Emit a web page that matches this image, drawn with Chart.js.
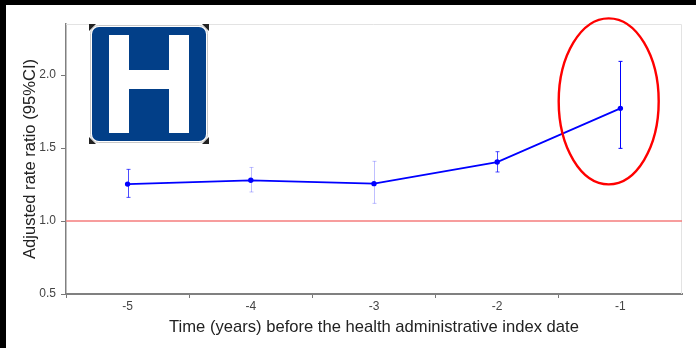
<!DOCTYPE html>
<html>
<head>
<meta charset="utf-8">
<title>Adjusted rate ratio</title>
<script src="https://cdn.jsdelivr.net/npm/chart.js@4"></script>
<style>
html, body { margin: 0; padding: 0; background: #000; overflow: hidden; }
#wrap { position: absolute; left: 6px; top: 5px; width: 690px; height: 343px; background: #fff; }
</style>
</head>
<body>
<div id="wrap"><canvas id="rateChart" width="690" height="343"></canvas></div>
<script>
var years = ["-5", "-4", "-3", "-2", "-1"];
var rateRatio = [1.253, 1.279, 1.256, 1.404, 1.772];
var ciUpper = [1.354, 1.367, 1.409, 1.475, 2.094];
var ciLower = [1.162, 1.199, 1.121, 1.336, 1.498];
var yTicks = [0.5, 1.0, 1.5, 2.0];
var referenceRatio = 1.0;

var fontName = "'Liberation Sans', Arial, sans-serif";
var ciAlpha = [0.7, 0.25, 0.25, 0.7, 1];

// red line at 1.0, plot frame, CI whiskers
var overlays = {
    id: "overlays",
    beforeDatasetsDraw: function (chart) {
        var c = chart.ctx, a = chart.chartArea, y = chart.scales.y;
        c.save();
        c.strokeStyle = "#e3e3e3";
        c.lineWidth = 1;
        c.beginPath();
        c.moveTo(a.left, a.top + 0.5);
        c.lineTo(a.right - 0.5, a.top + 0.5);
        c.lineTo(a.right - 0.5, a.bottom);
        c.stroke();
        c.strokeStyle = "#f47c7c";
        c.lineWidth = 1.5;
        c.beginPath();
        c.moveTo(a.left, y.getPixelForValue(referenceRatio));
        c.lineTo(a.right, y.getPixelForValue(referenceRatio));
        c.stroke();
        c.restore();
    },
    afterDatasetsDraw: function (chart) {
        var c = chart.ctx, x = chart.scales.x, y = chart.scales.y;
        c.save();
        c.lineWidth = 1;
        years.forEach(function (year, i) {
            var px = Math.round(x.getPixelForValue(i)) + 0.5;
            var top = y.getPixelForValue(ciUpper[i]);
            var bottom = y.getPixelForValue(ciLower[i]);
            c.strokeStyle = "rgba(0,0,255," + ciAlpha[i] + ")";
            c.beginPath();
            c.moveTo(px, top);
            c.lineTo(px, bottom);
            c.moveTo(px - 2, top);
            c.lineTo(px + 2, top);
            c.moveTo(px - 2, bottom);
            c.lineTo(px + 2, bottom);
            c.stroke();
        });
        c.restore();
    },
    afterDraw: function (chart) {
        var c = chart.ctx, a = chart.chartArea, x = chart.scales.x, y = chart.scales.y;
        c.save();

        // hospital sign
        var sx = a.left + 23, sy = a.top;
        c.fillStyle = "#fff";
        c.fillRect(sx, sy, 120, 120);
        c.fillStyle = "#222";
        [[0, 0, 1, 1], [120, 0, -1, 1], [0, 120, 1, -1], [120, 120, -1, -1]].forEach(function (p) {
            c.beginPath();
            c.moveTo(sx + p[0], sy + p[1]);
            c.lineTo(sx + p[0] + 7 * p[2], sy + p[1]);
            c.lineTo(sx + p[0], sy + p[1] + 7 * p[3]);
            c.fill();
        });
        c.strokeStyle = "#c8c8c8";
        c.lineWidth = 1;
        c.beginPath();
        c.roundRect(sx + 1.5, sy + 1.5, 117, 117, 8);
        c.stroke();
        c.fillStyle = "#023f88";
        c.beginPath();
        c.roundRect(sx + 3, sy + 3, 114, 114, 7);
        c.fill();
        c.fillStyle = "#fff";
        c.fillRect(sx + 20, sy + 11, 20, 98);
        c.fillRect(sx + 80, sy + 11, 20, 98);
        c.fillRect(sx + 40, sy + 46, 40, 19);

        // red ring around the last year
        var cx = x.getPixelForValue(3.905), cy = y.getPixelForValue(1.82);
        c.strokeStyle = "#ff0000";
        c.lineWidth = 2.4;
        c.beginPath();
        c.ellipse(cx, cy, 50, 83, 0, 0, Math.PI * 2);
        c.stroke();
        c.restore();
    }
};

var ctx = document.getElementById("rateChart").getContext("2d");
new Chart(ctx, {
    type: "line",
    data: {
        labels: years,
        datasets: [{
            data: rateRatio,
            borderColor: "#0000ff",
            backgroundColor: "#0000ff",
            borderWidth: 1.8,
            pointRadius: 1.8,
            pointHoverRadius: 1.8,
            tension: 0
        }]
    },
    options: {
        responsive: false,
        animation: false,
        layout: { padding: { top: 19, right: 14, left: 0, bottom: 0 } },
        plugins: { legend: { display: false }, tooltip: { enabled: false } },
        scales: {
            x: {
                offset: true,
                afterFit: function (scale) { scale.height = 54; },
                grid: {
                    offset: true,
                    drawOnChartArea: false,
                    tickLength: 4,
                    tickColor: function (context) {
                        return context.tick ? "#777" : "rgba(0,0,0,0)";
                    }
                },
                border: { color: "#808080", width: 2 },
                ticks: { color: "#444", font: { family: fontName, size: 12 }, padding: 1, maxRotation: 0 },
                title: {
                    display: true,
                    text: "Time (years) before the health administrative index date",
                    color: "#222",
                    font: { family: fontName, size: 16.6 },
                    padding: { top: 4, bottom: 11 }
                }
            },
            y: {
                min: 0.5,
                max: 2.35,
                afterFit: function (scale) { scale.width = 60; },
                afterBuildTicks: function (scale) {
                    scale.ticks = yTicks.map(function (v) { return { value: v }; });
                },
                grid: { drawOnChartArea: false, color: "#777", tickLength: 5 },
                border: { color: "#808080", width: 1.5 },
                ticks: {
                    color: "#444",
                    font: { family: fontName, size: 12 },
                    padding: 5,
                    callback: function (v) { return v.toFixed(1); }
                },
                title: {
                    display: true,
                    text: "Adjusted rate ratio (95%CI)",
                    color: "#222",
                    font: { family: fontName, size: 16.6 },
                    padding: { top: 14, bottom: 0 }
                }
            }
        }
    },
    plugins: [overlays]
});
</script>
</body>
</html>
